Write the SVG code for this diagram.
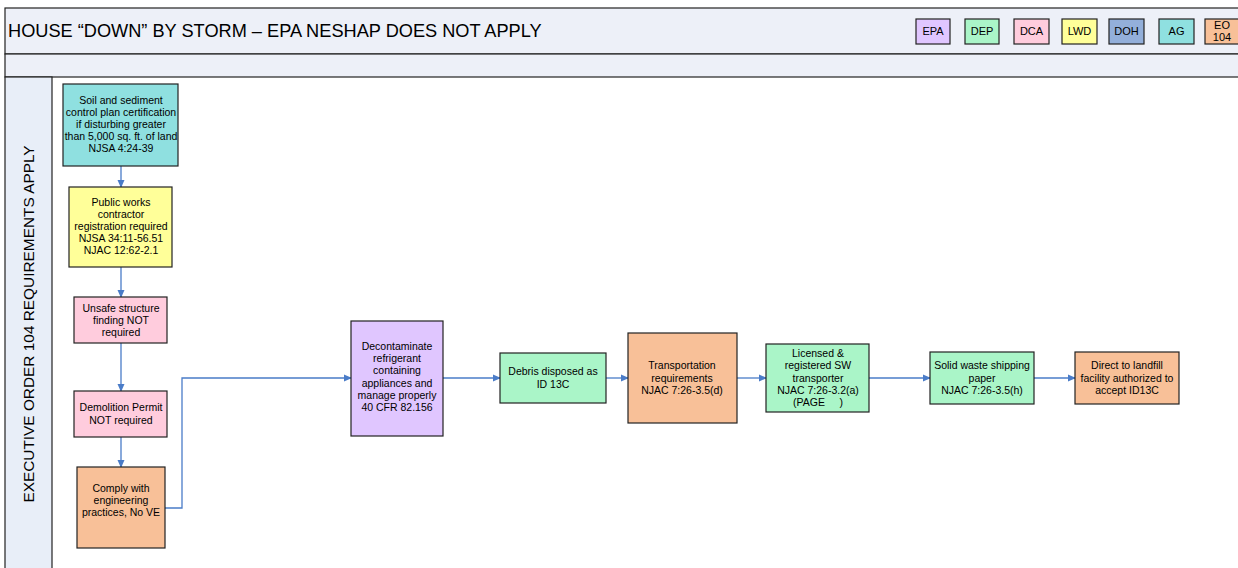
<svg xmlns="http://www.w3.org/2000/svg" width="1238" height="568" viewBox="0 0 1238 568">
<defs>
<marker id="arr" markerWidth="8" markerHeight="8" refX="7" refY="4" orient="auto" markerUnits="userSpaceOnUse">
<path d="M0,0.5 L8,4 L0,7.5 Z" fill="#4A7CC8"/>
</marker>
<style>
text{font-family:"Liberation Sans",Arial,sans-serif;fill:#000}
.t{font-size:10.5px;text-anchor:middle}
.lg{font-size:11px;text-anchor:middle}
.box{stroke:#222;stroke-width:1.2}
.band{fill:#EDF0F8;stroke:#222;stroke-width:1.2}
.c{fill:none;stroke:#4A7CC8;stroke-width:1.3;marker-end:url(#arr)}
.epa{fill:#E0C6FF}.dep{fill:#AAF5C8}.dca{fill:#FFCCDD}.lwd{fill:#FFFF99}.doh{fill:#93AFDA}.ag{fill:#8FE0E0}.eo{fill:#F8C098}
</style>
</defs>
<rect width="1238" height="568" fill="#fff"/>
<g id="header">
<rect class="band" x="5" y="8" width="1240" height="46"/>
<rect class="band" x="5" y="54" width="1240" height="23"/>
<text x="8" y="37" style="font-size:18.2px">HOUSE “DOWN” BY STORM – EPA NESHAP DOES NOT APPLY</text>
</g>
<g id="legend">
<rect class="box epa" x="916" y="19" width="34" height="25"/><text class="lg" x="933" y="35">EPA</text>
<rect class="box dep" x="965" y="19" width="34" height="25"/><text class="lg" x="982" y="35">DEP</text>
<rect class="box dca" x="1014" y="19" width="35" height="25"/><text class="lg" x="1031.5" y="35">DCA</text>
<rect class="box lwd" x="1062" y="19" width="35" height="25"/><text class="lg" x="1079.5" y="35">LWD</text>
<rect class="box doh" x="1109" y="19" width="35" height="25"/><text class="lg" x="1126.5" y="35">DOH</text>
<rect class="box ag" x="1159" y="19" width="35" height="25"/><text class="lg" x="1176.5" y="35">AG</text>
<rect class="box eo" x="1205" y="19" width="35" height="25"/><text class="lg" x="1222" y="29">EO</text><text class="lg" x="1222" y="41">104</text>
</g>
<g id="lane">
<rect x="5" y="77" width="47" height="495" fill="#E8EEF8" stroke="#222" stroke-width="1.2"/>
<text transform="translate(34,324) rotate(-90)" style="font-size:15.4px;text-anchor:middle">EXECUTIVE ORDER 104 REQUIREMENTS APPLY</text>
</g>
<g id="connectors">
<path class="c" d="M121,166 V187"/>
<path class="c" d="M121,267 V297"/>
<path class="c" d="M121,343 V391"/>
<path class="c" d="M121,437 V467"/>
<path class="c" d="M165,508 H182 V378 H351"/>
<path class="c" d="M443,378 H500"/>
<path class="c" d="M606,378 H628"/>
<path class="c" d="M737,378 H766"/>
<path class="c" d="M869,378 H930"/>
<path class="c" d="M1034,378 H1075"/>
</g>
<g id="n1">
<rect class="box ag" x="63" y="84" width="115" height="82"/>
<text class="t" x="121" y="104">Soil and sediment</text>
<text class="t" x="121" y="116">control plan certification</text>
<text class="t" x="121" y="128">if disturbing greater</text>
<text class="t" x="121" y="140">than 5,000 sq. ft. of land</text>
<text class="t" x="121" y="152">NJSA 4:24-39</text>
</g>
<g id="n2">
<rect class="box lwd" x="69" y="187" width="103" height="80"/>
<text class="t" x="121" y="206">Public works</text>
<text class="t" x="121" y="218">contractor</text>
<text class="t" x="121" y="230">registration required</text>
<text class="t" x="121" y="242">NJSA 34:11-56.51</text>
<text class="t" x="121" y="254">NJAC 12:62-2.1</text>
</g>
<g id="n3">
<rect class="box dca" x="74" y="297" width="93" height="46"/>
<text class="t" x="121" y="312">Unsafe structure</text>
<text class="t" x="121" y="324">finding NOT</text>
<text class="t" x="121" y="336">required</text>
</g>
<g id="n4">
<rect class="box dca" x="74" y="391" width="93" height="46"/>
<text class="t" x="121" y="411">Demolition Permit</text>
<text class="t" x="121" y="424">NOT required</text>
</g>
<g id="n5">
<rect class="box eo" x="77" y="467" width="88" height="81"/>
<text class="t" x="121" y="492">Comply with</text>
<text class="t" x="121" y="504">engineering</text>
<text class="t" x="121" y="516">practices, No VE</text>
</g>
<g id="n6">
<rect class="box epa" x="351" y="321" width="92" height="115"/>
<text class="t" x="397" y="350">Decontaminate</text>
<text class="t" x="397" y="362">refrigerant</text>
<text class="t" x="397" y="374">containing</text>
<text class="t" x="397" y="387">appliances and</text>
<text class="t" x="397" y="399">manage properly</text>
<text class="t" x="397" y="411">40 CFR 82.156</text>
</g>
<g id="n7">
<rect class="box dep" x="500" y="353" width="106" height="50"/>
<text class="t" x="553" y="375">Debris disposed as</text>
<text class="t" x="553" y="388">ID 13C</text>
</g>
<g id="n8">
<rect class="box eo" x="628" y="333" width="109" height="90"/>
<text class="t" x="682" y="369">Transportation</text>
<text class="t" x="682" y="382">requirements</text>
<text class="t" x="682" y="394">NJAC 7:26-3.5(d)</text>
</g>
<g id="n9">
<rect class="box dep" x="766" y="344" width="103" height="68"/>
<text class="t" x="818" y="357">Licensed &amp;</text>
<text class="t" x="818" y="369">registered SW</text>
<text class="t" x="818" y="382">transporter</text>
<text class="t" x="818" y="394">NJAC 7:26-3.2(a)</text>
<text class="t" x="818" y="406" xml:space="preserve">(PAGE     )</text>
</g>
<g id="n10">
<rect class="box dep" x="930" y="352" width="104" height="52"/>
<text class="t" x="982" y="369">Solid waste shipping</text>
<text class="t" x="982" y="382">paper</text>
<text class="t" x="982" y="394">NJAC 7:26-3.5(h)</text>
</g>
<g id="n11">
<rect class="box eo" x="1075" y="352" width="104" height="52"/>
<text class="t" x="1127" y="369">Direct to landfill</text>
<text class="t" x="1127" y="382">facility authorized to</text>
<text class="t" x="1127" y="394">accept ID13C</text>
</g>
</svg>
